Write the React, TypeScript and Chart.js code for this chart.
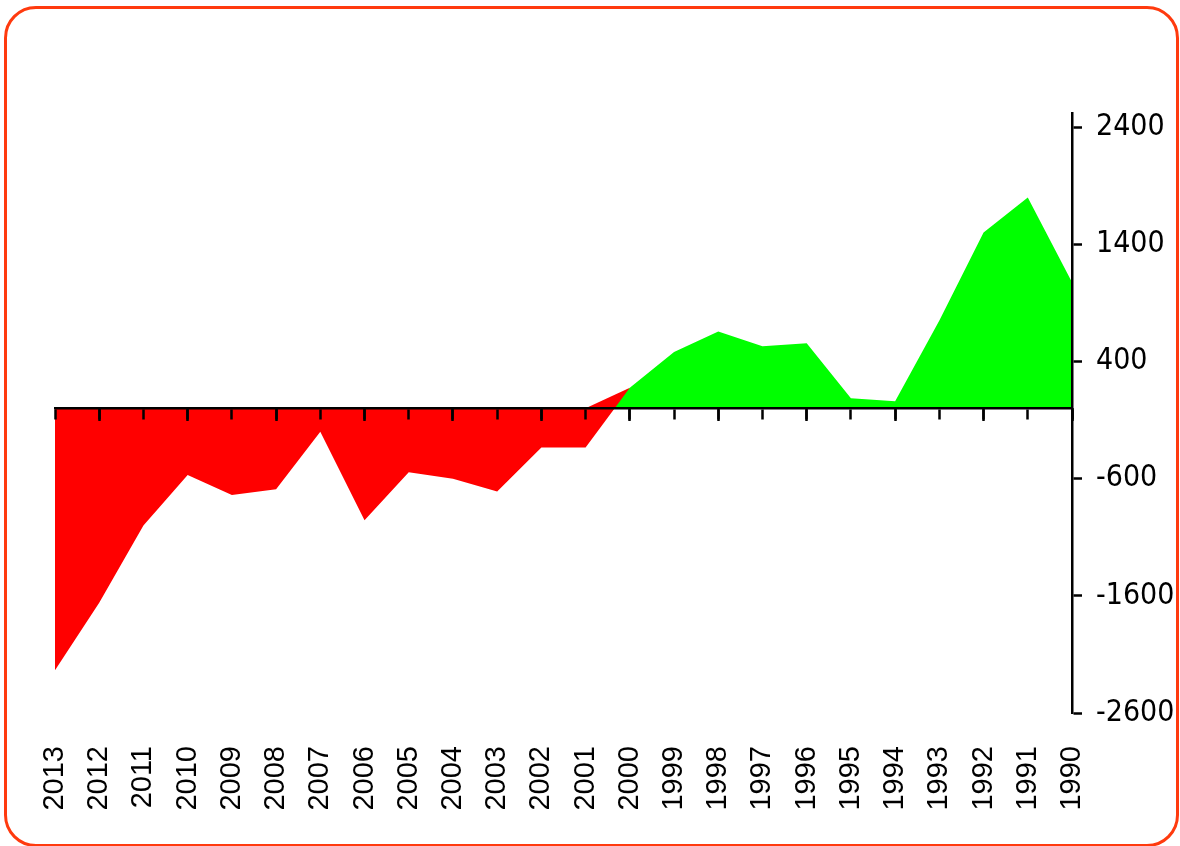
import React, { useEffect, useRef } from "react";
import { Chart, registerables } from "chart.js";

Chart.register(...registerables);

const years: string[] = [
  "2013", "2012", "2011", "2010", "2009", "2008", "2007", "2006", "2005", "2004", "2003", "2002",
  "2001", "2000", "1999", "1998", "1997", "1996", "1995", "1994", "1993", "1992", "1991", "1990",
];

const balance: number[] = [
  -2235, -1660, -1000, -570, -740, -690, -200, -955, -545, -600, -710, -335,
  -335, 175, 480, 655, 530, 555, 85, 60, 750, 1500, 1800, 1075,
];

// red edge segment between 2001 and 2000 as seen in the original rendering
const redEdge: (number | null)[] = [
  null, null, null, null, null, null, null, null, null, null, null, null,
  0, 175, null, null, null, null, null, null, null, null, null, null,
];

const yTickValues: number[] = [-2600, -1600, -600, 400, 1400, 2400];
const yMin = -2600;
const yMax = 2520;

export default function App() {
  const canvasRef = useRef<HTMLCanvasElement | null>(null);

  useEffect(() => {
    document.body.style.margin = "0";
    const canvas = canvasRef.current;
    if (!canvas) return;
    const chart = new Chart(canvas, {
      type: "line",
      data: {
        labels: years,
        datasets: [
          {
            data: balance,
            borderWidth: 0,
            borderColor: "transparent",
            pointRadius: 0,
            tension: 0,
            fill: { target: "origin", above: "#00ff00", below: "#ff0000" },
          },
          {
            data: redEdge,
            borderWidth: 0,
            borderColor: "transparent",
            pointRadius: 0,
            tension: 0,
            spanGaps: false,
            fill: { target: "origin", above: "#ff0000", below: "#ff0000" },
          },
        ],
      },
      options: {
        responsive: false,
        animation: false,
        events: [],
        layout: { padding: { left: 55, top: 113, right: 0, bottom: 0 } },
        plugins: { legend: { display: false }, tooltip: { enabled: false }, title: { display: false } },
        scales: {
          x: {
            type: "category",
            position: "bottom",
            grid: { display: false },
            border: { display: false },
            ticks: {
              autoSkip: false,
              maxRotation: 90,
              minRotation: 90,
              padding: 25,
              color: "#000000",
              font: { family: "'Liberation Sans', Arial, sans-serif", size: 29 },
            },
            afterFit: (scale: any) => {
              scale.height = 133;
            },
          },
          x2: {
            type: "category",
            axis: "x",
            position: { y: 0 },
            z: 2,
            ticks: { display: false },
            grid: {
              z: 2,
              drawOnChartArea: false,
              drawTicks: true,
              tickLength: 10,
              tickWidth: 2.5,
              tickColor: "#000000",
            },
            border: { z: 2, display: true, color: "#000000", width: 2.5 },
          },
          x3: {
            type: "category",
            axis: "x",
            position: { y: 0 },
            z: 2,
            ticks: { display: false },
            grid: {
              z: 2,
              drawOnChartArea: false,
              drawTicks: true,
              tickLength: 13,
              tickWidth: 2.5,
              tickColor: (ctx: any) => (ctx.index % 2 === 1 ? "#000000" : "rgba(0,0,0,0)"),
            },
            border: { display: false },
          },
          y: {
            type: "linear",
            position: "right",
            z: 2,
            min: yMin,
            max: yMax,
            afterBuildTicks: (scale: any) => {
              scale.ticks = yTickValues.map((v) => ({ value: v }));
            },
            grid: {
              z: 2,
              drawOnChartArea: false,
              drawTicks: true,
              tickLength: 10,
              tickWidth: 2.5,
              tickColor: "#000000",
            },
            border: { z: 2, display: true, color: "#000000", width: 2.5 },
            ticks: {
              padding: 14,
              color: "#000000",
              font: { family: "'DejaVu Sans Condensed', sans-serif", size: 30 },
              callback: (v: any) => String(v),
            },
            afterFit: (scale: any) => {
              scale.width = 108;
            },
          },
        },
      },
    });
    return () => chart.destroy();
  }, []);

  return (
    <div style={{ position: "relative", width: 1180, height: 846, overflow: "hidden", background: "#ffffff" }}>
      <canvas ref={canvasRef} width={1180} height={846} style={{ position: "absolute", left: 0, top: 0, display: "block" }} />
      <div
        style={{
          position: "absolute",
          left: 4,
          top: 6,
          width: 1175,
          height: 841,
          boxSizing: "border-box",
          border: "3px solid #ff3a0e",
          borderRadius: 32,
          pointerEvents: "none",
        }}
      />
    </div>
  );
}
